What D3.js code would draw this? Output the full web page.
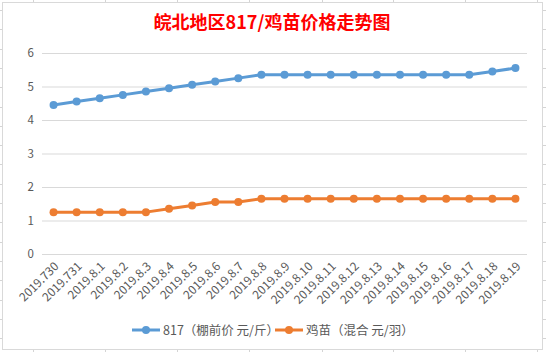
<!DOCTYPE html>
<html><head><meta charset="utf-8">
<script src="https://cdn.jsdelivr.net/npm/d3@7/dist/d3.min.js"></script>
<style>body{margin:0;background:#fff;}svg{display:block;}</style>
</head><body>
<script>
const categories = ["2019.730","2019.731","2019.8.1","2019.8.2","2019.8.3","2019.8.4","2019.8.5","2019.8.6","2019.8.7","2019.8.8","2019.8.9","2019.8.10","2019.8.11","2019.8.12","2019.8.13","2019.8.14","2019.8.15","2019.8.16","2019.8.17","2019.8.18","2019.8.19"];
const series817 = [4.45,4.55,4.65,4.75,4.85,4.95,5.05,5.15,5.25,5.35,5.35,5.35,5.35,5.35,5.35,5.35,5.35,5.35,5.35,5.45,5.55];
const seriesChick = [1.25,1.25,1.25,1.25,1.25,1.35,1.45,1.55,1.55,1.65,1.65,1.65,1.65,1.65,1.65,1.65,1.65,1.65,1.65,1.65,1.65];
const yTicks = [0,1,2,3,4,5,6];
const seriesNames = ["817（棚前价 元/斤）","鸡苗（混合 元/羽）"];
const colors = ["#5b9bd5","#ed7d31"];
const title = "皖北地区817/鸡苗价格走势图";

const W = 546, H = 352;
const font = "'Noto Sans CJK SC', 'Noto Sans', sans-serif";
const svg = d3.select("body").append("svg").attr("width", W).attr("height", H);

// spreadsheet background grid lines
const bg = svg.append("g").attr("stroke", "#d4d4d4").attr("stroke-width", 1);
[33,105,177,249,322,393,465,537].forEach(x => bg.append("line").attr("x1", x+0.5).attr("x2", x+0.5).attr("y1", 0).attr("y2", H));
d3.range(10, H, 19.3).forEach(y => bg.append("line").attr("x1", 0).attr("x2", W).attr("y1", Math.round(y)+0.5).attr("y2", Math.round(y)+0.5));

// chart area
svg.append("rect").attr("x", 2.5).attr("y", 2.5).attr("width", 540).attr("height", 347)
  .attr("fill", "#fff").attr("stroke", "#d9d9d9").attr("stroke-width", 1);

svg.append("text").attr("x", 272).attr("y", 29).attr("text-anchor", "middle")
  .attr("font-family", font).attr("font-size", 18).attr("font-weight", "bold").attr("fill", "#ff0000")
  .text(title);

const x = d3.scaleBand().domain(categories).range([42, 527]);
const y = d3.scaleLinear().domain([0, 6]).range([254, 53]);
const cx = d => x(d) + x.bandwidth() / 2;

// gridlines + y labels
const gy = svg.append("g").attr("transform", "translate(42,0)")
  .call(d3.axisLeft(y).tickValues(yTicks).tickSize(-485).tickPadding(8).tickFormat(d3.format("d")));
gy.select(".domain").remove();
gy.selectAll(".tick line").attr("stroke", "#d9d9d9");
gy.selectAll(".tick text").attr("fill", "#595959").attr("font-family", font).attr("font-size", 11.5);

// x labels
const gx = svg.append("g").attr("transform", "translate(0,254)")
  .call(d3.axisBottom(x).tickSize(0).tickPadding(0));
gx.select(".domain").remove();
gx.selectAll(".tick text")
  .attr("fill", "#595959").attr("font-family", font).attr("font-size", 12)
  .attr("text-anchor", "end").attr("dy", 0).attr("y", 0)
  .attr("transform", "translate(6,13) rotate(-45)");

const data = [series817, seriesChick];
const line = d3.line().x((d, i) => cx(categories[i])).y(d => y(d));
data.forEach((s, k) => {
  svg.append("path").datum(s).attr("d", line).attr("fill", "none")
    .attr("stroke", colors[k]).attr("stroke-width", 3).attr("stroke-linejoin", "round");
  svg.append("g").selectAll("circle").data(s).join("circle")
    .attr("cx", (d, i) => cx(categories[i])).attr("cy", d => y(d)).attr("r", 4)
    .attr("fill", colors[k]);
});

// legend
const legX = [132, 275];
seriesNames.forEach((n, k) => {
  const g = svg.append("g").attr("transform", `translate(${legX[k]},330)`);
  g.append("line").attr("x1", 0).attr("x2", 28).attr("y1", 0).attr("y2", 0)
    .attr("stroke", colors[k]).attr("stroke-width", 3);
  g.append("circle").attr("cx", 14).attr("cy", 0).attr("r", 4).attr("fill", colors[k]);
  g.append("text").attr("x", 31).attr("y", 4.5).attr("font-family", font).attr("font-size", 12.5)
    .attr("fill", "#595959").text(n);
});
</script>
</body></html>
